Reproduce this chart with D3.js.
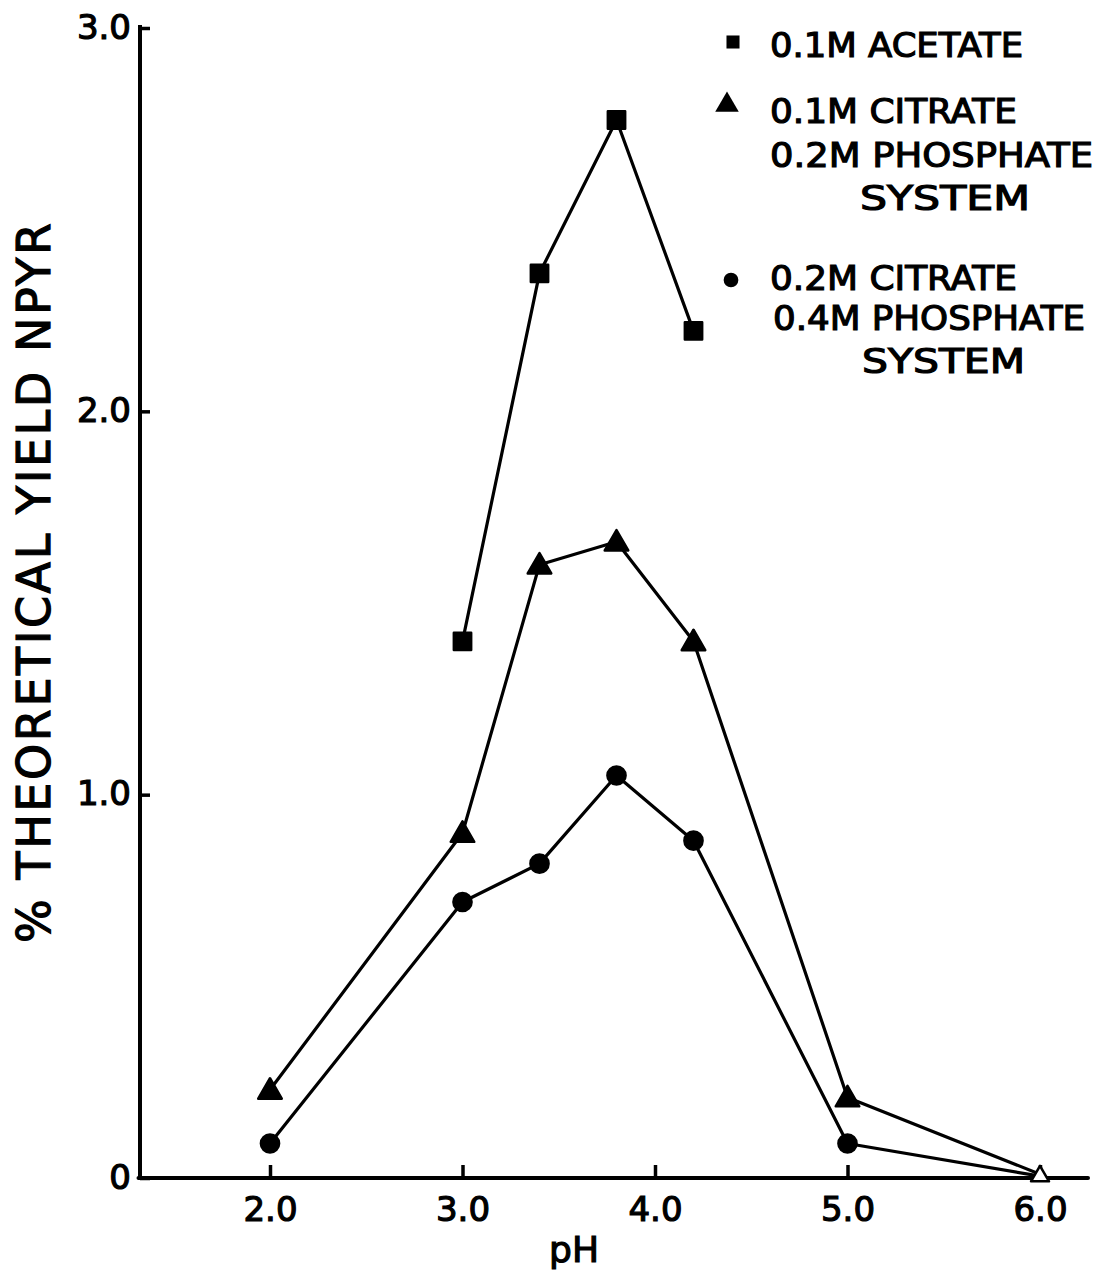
<!DOCTYPE html>
<html><head><meta charset="utf-8">
<script src="https://cdn.jsdelivr.net/npm/d3@7"></script>
<style>body{margin:0;background:#fff}svg{display:block}text{font-family:"DejaVu Sans",sans-serif;fill:#000;stroke:#000;stroke-width:1.2px}</style>
</head><body><svg id="c" width="1100" height="1274"></svg>
<script>
// ---- data ----
const acetatePH = [3.0, 3.4, 3.8, 4.2];
const acetateYield = [1.40, 2.36, 2.76, 2.21];
const citrate1PH = [2.0, 3.0, 3.4, 3.8, 4.2, 5.0, 6.0];
const citrate1Yield = [0.23, 0.90, 1.60, 1.66, 1.40, 0.21, 0.01];
const citrate2PH = [2.0, 3.0, 3.4, 3.8, 4.2, 5.0, 6.0];
const citrate2Yield = [0.09, 0.72, 0.82, 1.05, 0.88, 0.09, 0.005];
const xTicks = [2.0, 3.0, 4.0, 5.0, 6.0];
const xTickLabels = ["2.0", "3.0", "4.0", "5.0", "6.0"];
const yTicks = [0, 1, 2, 3];
const yTickLabels = ["0", "1.0", "2.0", "3.0"];
const legendLabels = [
  ["0.1M ACETATE"],
  ["0.1M CITRATE", "0.2M  PHOSPHATE", "SYSTEM"],
  ["0.2M CITRATE", "0.4M PHOSPHATE", "SYSTEM"]
];
const xLabel = "pH";
const yLabel = "% THEORETICAL  YIELD  NPYR";

// ---- layout ----
const svg = d3.select("#c");
const x = d3.scaleLinear().domain([2, 6]).range([270, 1040]);
const y = d3.scaleLinear().domain([0, 3]).range([1178, 28]);
const axisLeftX = 140, axisRightX = 1088, axisTopY = 25;

// axes
const gx = svg.append("g").attr("transform", `translate(0,${y(0)})`)
  .call(d3.axisBottom(x).tickValues(xTicks).tickFormat((d, i) => xTickLabels[i]).tickSize(-13).tickSizeOuter(0).tickPadding(20));
gx.select(".domain").remove();
gx.selectAll(".tick line").attr("stroke", "#000").attr("stroke-width", 3.5);
gx.selectAll(".tick text").attr("font-size", 34).attr("dy", "0.71em").attr("y", 19);

const gy = svg.append("g").attr("transform", `translate(${axisLeftX},0)`)
  .call(d3.axisLeft(y).tickValues(yTicks).tickFormat((d, i) => yTickLabels[i]).tickSize(-10).tickSizeOuter(0).tickPadding(10));
gy.select(".domain").remove();
gy.selectAll(".tick line").attr("stroke", "#000").attr("stroke-width", 3.5);
gy.selectAll(".tick text").attr("font-size", 34).attr("x", -9).attr("dy", "0.3em");

svg.append("line").attr("x1", axisLeftX).attr("x2", axisLeftX).attr("y1", axisTopY).attr("y2", y(0) + 1.5)
  .attr("stroke", "#000").attr("stroke-width", 4);
svg.append("line").attr("x1", axisLeftX - 1.5).attr("x2", axisRightX).attr("y1", y(0)).attr("y2", y(0))
  .attr("stroke", "#000").attr("stroke-width", 4).attr("stroke-linecap", "round");

// axis titles
svg.append("text").attr("x", 574).attr("y", 1262).attr("text-anchor", "middle")
  .attr("font-size", 36).text(xLabel);
svg.append("text").attr("transform", "translate(50,583) rotate(-90)").attr("text-anchor", "middle")
  .attr("font-size", 46).attr("textLength", 720).attr("lengthAdjust", "spacing").text(yLabel);

// lines
const line = d3.line().x(d => x(d[0])).y(d => y(d[1]));
const series = [
  {ph: acetatePH, v: acetateYield, shape: d3.symbolSquare, size: 300},
  {ph: citrate1PH, v: citrate1Yield, shape: d3.symbolTriangle, size: 240},
  {ph: citrate2PH, v: citrate2Yield, shape: d3.symbolCircle, size: 260}
];
series.forEach(s => {
  const pts = s.ph.map((p, i) => [p, s.v[i]]);
  svg.append("path").datum(pts).attr("d", line).attr("fill", "none")
    .attr("stroke", "#000").attr("stroke-width", 3.2).attr("stroke-linejoin", "round");
});
series.forEach((s, si) => {
  const pts = s.ph.map((p, i) => [p, s.v[i]]);
  svg.selectAll(null).data(pts.filter(d => !(si === 2 && d[0] === 6.0))).enter().append("path")
    .attr("transform", d => `translate(${x(d[0])},${y(d[1]) + (si === 1 ? 2 : 0)})`)
    .attr("d", d => d3.symbol().type(s.shape).size(si === 1 && d[0] === 6.0 ? 140 : s.size)())
    .attr("fill", d => (si === 1 && d[0] === 6.0) ? "#fff" : "#000")
    .attr("stroke", "#000").attr("stroke-width", 2.5).attr("stroke-linejoin", "round");
});

// legend
const legendRows = [[57], [123, 167, 210], [290, 330, 373]];
const legendX = [[770], [770, 770, 860], [770, 773, 862]];
const legendW = [[253], [247, 323, 170], [247, 312, 163]];
const legendMarkY = [42, 105, 280];
const legendMarkX = [733, 727, 731];
const legendShapes = [d3.symbolSquare, d3.symbolTriangle, d3.symbolCircle];
const legendSizes = [170, 240, 170];
legendLabels.forEach((lines, i) => {
  svg.append("path").attr("transform", `translate(${legendMarkX[i]},${legendMarkY[i]})`)
    .attr("d", d3.symbol().type(legendShapes[i]).size(legendSizes[i])()).attr("fill", "#000");
  lines.forEach((t, j) => {
    svg.append("text").attr("x", legendX[i][j]).attr("y", legendRows[i][j])
      .attr("font-size", 34).attr("textLength", legendW[i][j]).attr("lengthAdjust", "spacingAndGlyphs").text(t);
  });
});
</script></body></html>
